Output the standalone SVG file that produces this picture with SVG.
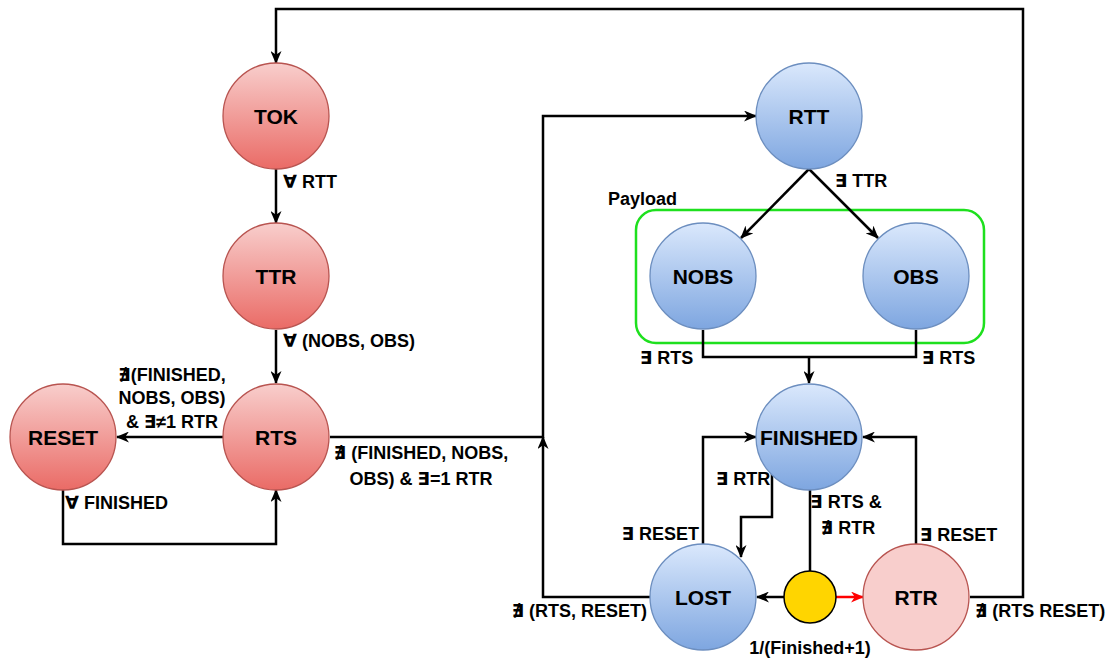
<svg xmlns="http://www.w3.org/2000/svg" width="1115" height="659" viewBox="0 0 1115 659">
<style>
.lbl{font-family:"Liberation Sans","DejaVu Sans",Arial,sans-serif;font-weight:bold;font-size:18px;fill:#000}
.nl{font-family:"Liberation Sans","DejaVu Sans",Arial,sans-serif;font-weight:bold;font-size:21px;fill:#000;text-anchor:middle}
.red{fill:url(#gRed);stroke:#b85450;stroke-width:1.3}
.blue{fill:url(#gBlue);stroke:#6c8ebf;stroke-width:1.3}
.e{fill:none;stroke:#000;stroke-width:2.5}
.ea{fill:none;stroke:#000;stroke-width:2.5;marker-end:url(#arr)}
</style>
<defs>
<linearGradient id="gRed" x1="0" y1="0" x2="0" y2="1">
<stop offset="0" stop-color="#f8cecc"/><stop offset="1" stop-color="#ea6b66"/>
</linearGradient>
<linearGradient id="gBlue" x1="0" y1="0" x2="0" y2="1">
<stop offset="0" stop-color="#dae8fc"/><stop offset="1" stop-color="#7ea6e0"/>
</linearGradient>
<marker id="arr" viewBox="0 0 13 11" refX="12" refY="5.5" markerWidth="13" markerHeight="11" markerUnits="userSpaceOnUse" orient="auto">
<path d="M0,0 L13,5.5 L0,11 L3.8,5.5 z" fill="#000"/>
</marker>
<marker id="arrR" viewBox="0 0 13 11" refX="12" refY="5.5" markerWidth="13" markerHeight="11" markerUnits="userSpaceOnUse" orient="auto">
<path d="M0,0 L13,5.5 L0,11 L3.8,5.5 z" fill="#ff0000"/>
</marker>
</defs>
<rect width="1115" height="659" fill="#fff"/>

<g id="payload">
<rect x="636" y="210" width="348" height="133" rx="20" ry="20" fill="none" stroke="#1ee01e" stroke-width="2.5"/>
<text class="lbl" x="608" y="205">Payload</text>
</g>

<g id="connectors">
<path class="ea" d="M970,597 H1023 V9 H276 V63"/>
<path class="ea" d="M276,169 V223"/>
<path class="ea" d="M276,330 V383"/>
<path class="ea" d="M223,437 H117"/>
<path class="ea" d="M63,490 V544 H276 V490"/>
<path class="ea" d="M330,437 H543 V116 H756"/>
<path class="ea" d="M650,597 H543 V437"/>
<path class="ea" d="M809,169 L741,238"/>
<path class="ea" d="M809,169 L878,238"/>
<path class="e" d="M703,330 V357 H916 V330"/>
<path class="ea" d="M809,357 V383"/>
<path class="ea" d="M703,544 V437 H756"/>
<path class="ea" d="M772,470 V517 H741 V557"/>
<path class="e" d="M810,490 V571"/>
<path class="ea" d="M784,597 H757"/>
<path d="M836,597 H863" fill="none" stroke="#ff0000" stroke-width="2.5" marker-end="url(#arrR)"/>
<path class="ea" d="M916,544 V437 H863"/>

<text class="lbl" x="283" y="188">∀ RTT</text>
<text class="lbl" x="835" y="187">∃ TTR</text>
<text class="lbl" x="283" y="347">∀ (NOBS, OBS)</text>
<text class="lbl" x="640" y="364">∃ RTS</text>
<text class="lbl" x="922" y="364">∃ RTS</text>
<text class="lbl" text-anchor="middle" x="172" y="381">∄(FINISHED,</text>
<text class="lbl" text-anchor="middle" x="172" y="404">NOBS, OBS)</text>
<text class="lbl" text-anchor="middle" x="172" y="428">&amp; ∃≠1 RTR</text>
<text class="lbl" text-anchor="middle" x="421" y="459">∄ (FINISHED, NOBS,</text>
<text class="lbl" text-anchor="middle" x="421" y="485">OBS) &amp; ∃=1 RTR</text>
<text class="lbl" x="65" y="509">∀ FINISHED</text>
<text class="lbl" x="716" y="485">∃ RTR</text>
<text class="lbl" text-anchor="middle" x="846" y="508">∃ RTS &amp;</text>
<text class="lbl" text-anchor="middle" x="848" y="534">∄ RTR</text>
<text class="lbl" text-anchor="end" x="699" y="540">∃ RESET</text>
<text class="lbl" x="920" y="541">∃ RESET</text>
<text class="lbl" text-anchor="end" x="647" y="617">∄ (RTS, RESET)</text>
<text class="lbl" x="975" y="617">∄ (RTS RESET)</text>
<text class="lbl" text-anchor="middle" x="810" y="654">1/(Finished+1)</text>
</g>

<g id="TOK"><circle class="red" cx="276" cy="116" r="53"/><text class="nl" x="276" y="124">TOK</text></g>
<g id="TTR"><circle class="red" cx="276" cy="276" r="53"/><text class="nl" x="276" y="284">TTR</text></g>
<g id="RTS"><circle class="red" cx="276" cy="437" r="53"/><text class="nl" x="276" y="445">RTS</text></g>
<g id="RESET"><circle class="red" cx="63" cy="437" r="53"/><text class="nl" x="63" y="445">RESET</text></g>
<g id="RTT"><circle class="blue" cx="809" cy="116" r="53"/><text class="nl" x="809" y="124">RTT</text></g>
<g id="NOBS"><circle class="blue" cx="703" cy="276" r="53"/><text class="nl" x="703" y="284">NOBS</text></g>
<g id="OBS"><circle class="blue" cx="916" cy="276" r="53"/><text class="nl" x="916" y="284">OBS</text></g>
<g id="FINISHED"><circle class="blue" cx="809" cy="437" r="53"/><text class="nl" x="809" y="445">FINISHED</text></g>
<g id="LOST"><circle class="blue" cx="703" cy="597" r="53"/><text class="nl" x="703" y="605">LOST</text></g>
<g id="RTR"><circle cx="916" cy="597" r="53" fill="#f8cecc" stroke="#b85450" stroke-width="1.3"/><text class="nl" x="916" y="605">RTR</text></g>
<g id="choice"><circle cx="810" cy="597" r="26" fill="#ffd500" stroke="#000" stroke-width="1.5"/></g>
</svg>
